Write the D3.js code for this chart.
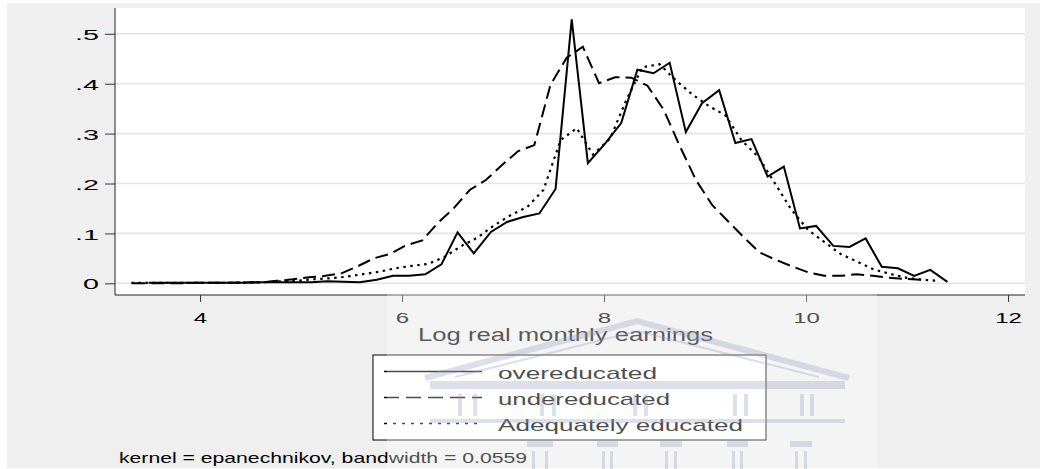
<!DOCTYPE html>
<html><head><meta charset="utf-8">
<script src="https://cdn.jsdelivr.net/npm/d3@7"></script>
<style>
html,body{margin:0;padding:0;background:#fff;}
svg{display:block;font-family:"Liberation Sans",Arial,sans-serif;}
</style>
</head><body>
<svg id="chart" width="1040" height="469"></svg>
<script>
// ---------------- data ----------------
const overX = [3.49,3.65,3.81,3.97,4.13,4.29,4.45,4.62,4.78,4.94,
               5.10,5.26,5.42,5.58,5.75,5.91,6.07,6.23,6.39,6.55,
               6.71,6.88,7.04,7.20,7.36,7.52,7.68,7.84,8.01,8.17,
               8.33,8.49,8.65,8.81,8.97,9.14,9.30,9.46,9.62,9.78,
               9.94,10.10,10.27,10.43,10.59,10.75,10.91,11.07,11.23,11.40];
const overY = [0.001,0.001,0.001,0.001,0.001,0.001,0.001,0.002,0.002,0.002,
               0.002,0.004,0.003,0.002,0.007,0.015,0.015,0.018,0.038,0.102,
               0.060,0.103,0.123,0.133,0.140,0.189,0.529,0.241,0.280,0.321,
               0.428,0.421,0.442,0.303,0.361,0.387,0.281,0.289,0.214,0.234,
               0.110,0.115,0.075,0.073,0.090,0.033,0.030,0.015,0.027,0.003];

const underX = [3.33,3.49,3.65,3.81,3.96,4.12,4.28,4.44,4.60,4.76,
                4.92,5.08,5.24,5.40,5.56,5.72,5.88,6.04,6.20,6.36,
                6.51,6.67,6.83,6.99,7.15,7.31,7.47,7.63,7.79,7.95,
                8.11,8.27,8.43,8.59,8.75,8.91,9.07,9.23,9.38,9.54,
                9.70,9.86,10.02,10.18,10.34,10.50,10.66,10.82,10.98,11.14];
const underY = [0.000,0.000,0.000,0.000,0.001,0.001,0.001,0.002,0.002,0.005,
                0.008,0.012,0.015,0.020,0.034,0.050,0.059,0.076,0.086,0.122,
                0.150,0.187,0.207,0.237,0.265,0.277,0.398,0.452,0.474,0.401,
                0.413,0.412,0.396,0.348,0.275,0.207,0.157,0.124,0.093,0.062,
                0.047,0.034,0.022,0.015,0.015,0.018,0.015,0.011,0.009,0.007];

const adeqX = [3.32,3.48,3.64,3.81,3.97,4.13,4.30,4.46,4.62,4.79,
               4.95,5.11,5.28,5.44,5.60,5.77,5.93,6.10,6.26,6.42,
               6.59,6.75,6.91,7.08,7.24,7.40,7.57,7.73,7.89,8.06,
               8.22,8.38,8.55,8.71,8.87,9.04,9.20,9.36,9.53,9.69,
               9.85,10.02,10.18,10.34,10.51,10.67,10.83,11.00,11.16,11.32];
const adeqY = [0.001,0.001,0.001,0.001,0.001,0.001,0.001,0.002,0.002,0.004,
               0.005,0.008,0.010,0.013,0.018,0.023,0.030,0.035,0.039,0.053,
               0.075,0.092,0.116,0.137,0.153,0.187,0.287,0.311,0.258,0.290,
               0.367,0.433,0.439,0.407,0.379,0.355,0.337,0.287,0.253,0.201,
               0.149,0.107,0.083,0.059,0.043,0.028,0.019,0.011,0.007,0.005];

const seriesNames = ["overeducated","undereducated","Adequately educated"];
const xTicks = [4,6,8,10,12];
const xTickLabels = ["4","6","8","10","12"];
const yTicks = [0,0.1,0.2,0.3,0.4,0.5];
const yTickLabels = ["0",".1",".2",".3",".4",".5"];
const xTitle = "Log real monthly earnings";
const noteText = "kernel = epanechnikov, bandwidth = 0.0559";

// ---------------- layout ----------------
const svg = d3.select("#chart");
const plot = {left:115, right:1025, top:8, bottom:295};
const x = d3.scaleLinear().domain([3.158, 12.168]).range([plot.left, plot.right]);
const y = d3.scaleLinear().domain([-0.0234, 0.5517]).range([plot.bottom, plot.top]);

// backgrounds
svg.append("rect").attr("x",0).attr("y",0).attr("width",1040).attr("height",469).attr("fill","#ffffff");
svg.append("rect").attr("x",7).attr("y",3).attr("width",1033).attr("height",465).attr("fill","#efefef");
svg.append("rect").attr("x",plot.left).attr("y",plot.top)
   .attr("width",plot.right-plot.left).attr("height",plot.bottom-plot.top).attr("fill","#ffffff");

// gridlines
svg.append("g").selectAll("line").data(yTicks).join("line")
  .attr("x1",plot.left).attr("x2",plot.right)
  .attr("y1",d=>y(d)).attr("y2",d=>y(d))
  .attr("stroke","#e4e4e4").attr("stroke-width",1.6);

// series
const styles = [
  {dash:null, w:2},
  {dash:"13,6", w:2},
  {dash:"2.5,4.5", w:2.2}
];
const seriesData = [
  overX.map((v,i)=>[v,overY[i]]),
  underX.map((v,i)=>[v,underY[i]]),
  adeqX.map((v,i)=>[v,adeqY[i]])
];
const line = d3.line().x(d=>x(d[0])).y(d=>y(d[1]));
seriesData.forEach((s,i)=>{
  svg.append("path").datum(s).attr("d",line)
    .attr("fill","none").attr("stroke","#000")
    .attr("stroke-width",styles[i].w)
    .attr("stroke-dasharray",styles[i].dash)
    .attr("stroke-linejoin","miter");
});

// axes
const yAxis = d3.axisLeft(y).tickValues(yTicks).tickFormat((d,i)=>yTickLabels[i]).tickSize(10).tickSizeOuter(0);
const gy = svg.append("g").attr("transform",`translate(${plot.left},0)`).call(yAxis);
gy.select(".domain").attr("stroke","#222").attr("d",`M0,${plot.top}V${plot.bottom}`);
gy.selectAll(".tick line").attr("stroke","#333");
gy.selectAll(".tick text").remove();
gy.selectAll(".tick").append("g").attr("transform","translate(-16,5.6) scale(1.85,1)")
  .append("text").attr("text-anchor","end").attr("font-size",15.5).attr("fill","#000")
  .text((d,i)=>yTickLabels[i]);

const xAxis = d3.axisBottom(x).tickValues(xTicks).tickFormat((d,i)=>xTickLabels[i]).tickSize(7).tickSizeOuter(0);
const gx = svg.append("g").attr("transform",`translate(0,${plot.bottom})`).call(xAxis);
gx.select(".domain").attr("stroke","#222").attr("d",`M${plot.left},0H${plot.right}`);
gx.selectAll(".tick line").attr("stroke","#333");
gx.selectAll(".tick text").remove();
gx.selectAll(".tick").append("g").attr("transform","translate(0,28) scale(1.6,1)")
  .append("text").attr("text-anchor","middle").attr("font-size",15).attr("fill","#000")
  .text((d,i)=>xTickLabels[i]);

// axis title
svg.append("text").attr("x",418).attr("y",340.5).attr("font-size",18)
  .attr("textLength",295).attr("lengthAdjust","spacingAndGlyphs")
  .attr("fill","#111").text(xTitle);

// legend
const lg = svg.append("g");
lg.append("rect").attr("x",373).attr("y",355).attr("width",393).attr("height",85)
  .attr("fill","#fff").attr("stroke","#000").attr("stroke-width",1);
const legRows = [371.5, 397.5, 423.5];
const legBase = [378.5, 405, 430.5];
const legLen = [159, 172, 245];
const legDash = [null, "15,7", "3,6"];
seriesNames.forEach((n,i)=>{
  lg.append("line").attr("x1",384).attr("x2",482).attr("y1",legRows[i]).attr("y2",legRows[i])
    .attr("stroke","#000").attr("stroke-width",1.3).attr("stroke-dasharray",legDash[i]);
  lg.append("text").attr("x",498).attr("y",legBase[i]).attr("font-size",17)
    .attr("textLength",legLen[i]).attr("lengthAdjust","spacingAndGlyphs")
    .attr("fill","#000").text(n);
});

// note
svg.append("text").attr("x",119).attr("y",463).attr("font-size",15)
  .attr("textLength",408).attr("lengthAdjust","spacingAndGlyphs")
  .attr("fill","#000").text(noteText);

// faint watermark (decoration)
const wm = svg.append("g");
wm.append("rect").attr("x",387).attr("y",289).attr("width",490).attr("height",180)
  .attr("fill","#ffffff").attr("opacity",0.3);
const wc = "#8f9abb";
const wg = wm.append("g").attr("opacity",0.3);
wg.append("path").attr("d","M425,378 L637,321 L849,378").attr("fill","none").attr("stroke",wc).attr("stroke-width",6);
wg.append("path").attr("d","M455,377 L637,331 L819,377").attr("fill","none").attr("stroke",wc).attr("stroke-width",2);
wg.append("rect").attr("x",430).attr("y",381).attr("width",415).attr("height",8).attr("fill",wc);
wg.append("rect").attr("x",430).attr("y",419).attr("width",415).attr("height",4).attr("fill",wc);
[[458,477],[540,556],[633,648],[733,748],[800,814]].forEach(p=>{
  wg.append("rect").attr("x",p[0]).attr("y",394).attr("width",4).attr("height",22).attr("fill",wc);
  wg.append("rect").attr("x",p[1]-4).attr("y",394).attr("width",4).attr("height",22).attr("fill",wc);
});
[[527,553],[597,618],[660,682],[727,748],[790,812]].forEach(p=>{
  wg.append("rect").attr("x",p[0]).attr("y",441).attr("width",p[1]-p[0]).attr("height",6).attr("fill",wc);
  wg.append("rect").attr("x",p[0]+5).attr("y",451).attr("width",3).attr("height",18).attr("fill",wc);
  wg.append("rect").attr("x",p[1]-8).attr("y",451).attr("width",3).attr("height",18).attr("fill",wc);
});
</script>
</body></html>
